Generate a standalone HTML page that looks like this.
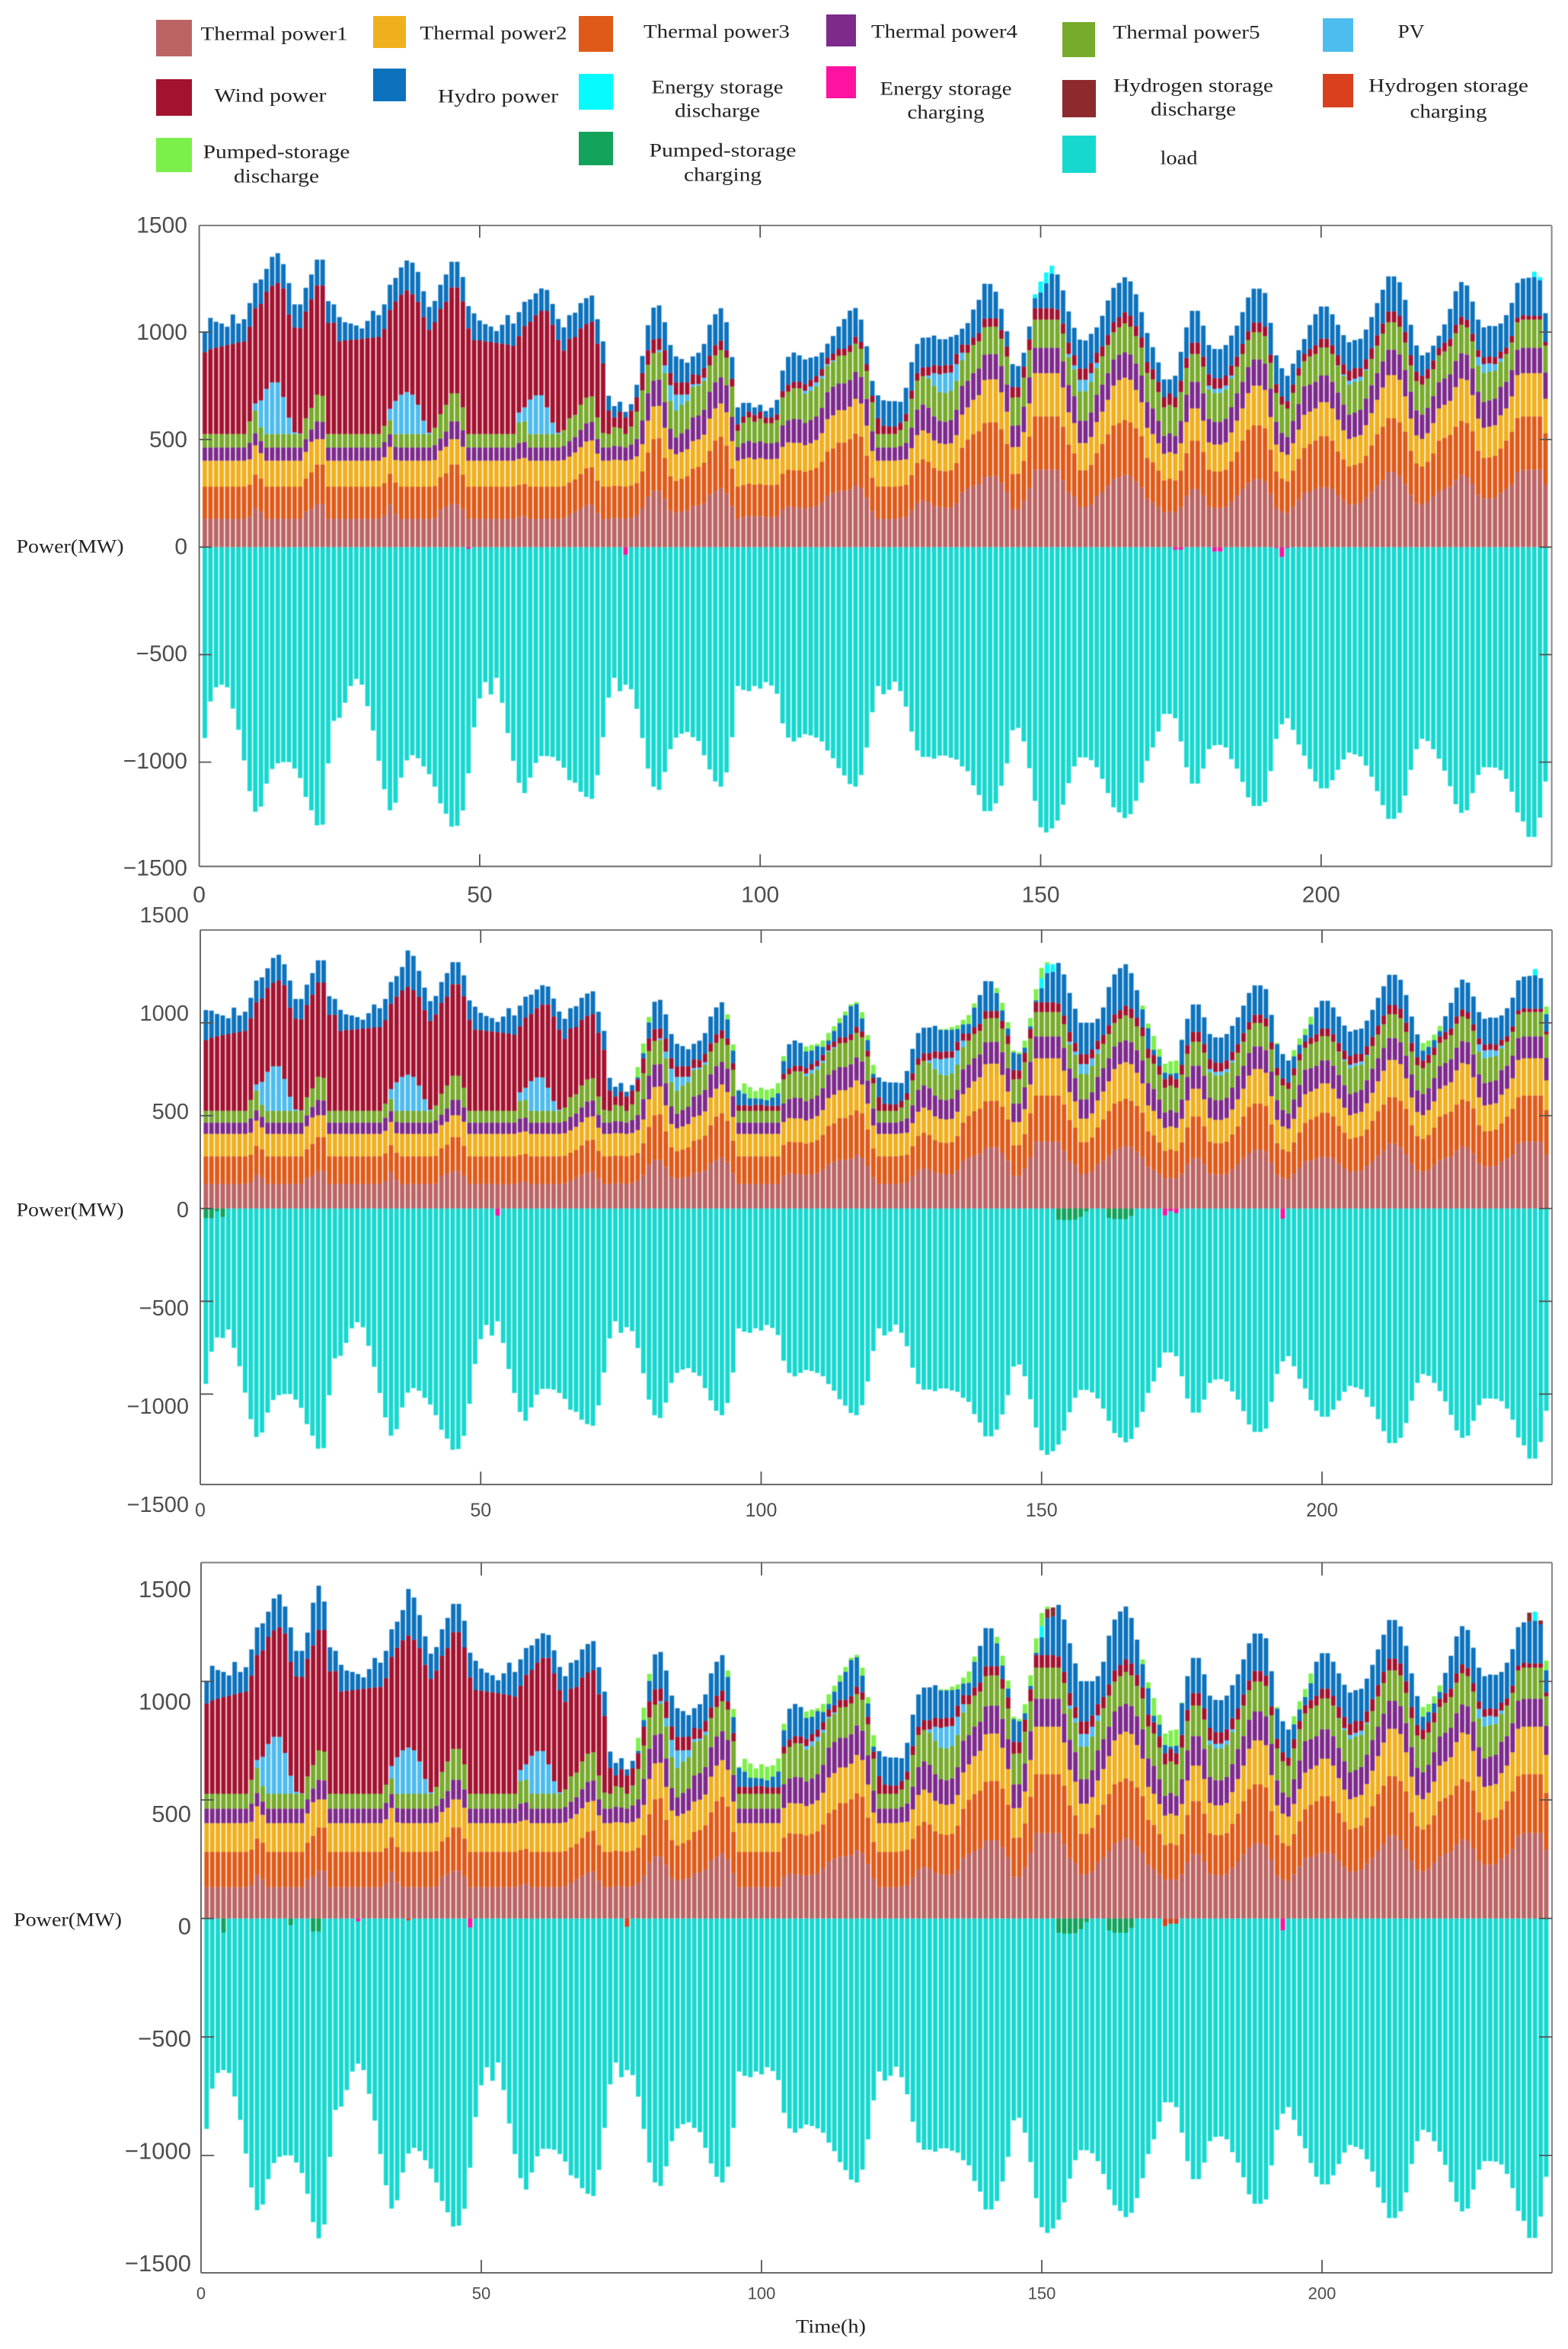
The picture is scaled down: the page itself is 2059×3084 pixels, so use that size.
<!DOCTYPE html>
<html lang="en">
<head>
<meta charset="utf-8">
<title>Power dispatch stacked bars</title>
<style>
html,body{margin:0;padding:0;background:#fff}
#figure{display:block;width:2059px;height:3084px}
.lg{font-family:"Liberation Serif",serif;font-size:25px;fill:#222;text-anchor:middle;dominant-baseline:central}
.tick{font-family:"Liberation Sans",sans-serif;fill:#4d4d4d;dominant-baseline:central}
.bars{filter:blur(0.55px)}
</style>
</head>
<body>
<svg id="figure" xmlns="http://www.w3.org/2000/svg" width="2059" height="3084" viewBox="0 0 2059 3084">
<rect width="2059" height="3084" fill="#fff"/>
<g id="legend">
<rect x="205" y="26" width="47" height="48" fill="#bc6464"/>
<text class="lg" x="360" y="45" textLength="193" lengthAdjust="spacingAndGlyphs">Thermal power1</text>
<rect x="490" y="21" width="43" height="42" fill="#f0b01e"/>
<text class="lg" x="648" y="44" textLength="193" lengthAdjust="spacingAndGlyphs">Thermal power2</text>
<rect x="760" y="21" width="45" height="47" fill="#df5a18"/>
<text class="lg" x="941" y="42" textLength="192" lengthAdjust="spacingAndGlyphs">Thermal power3</text>
<rect x="1085" y="19" width="39" height="42" fill="#7d2a8c"/>
<text class="lg" x="1240" y="42" textLength="192" lengthAdjust="spacingAndGlyphs">Thermal power4</text>
<rect x="1395" y="29" width="43" height="46" fill="#77ab2c"/>
<text class="lg" x="1558" y="43" textLength="193" lengthAdjust="spacingAndGlyphs">Thermal power5</text>
<rect x="1737" y="24" width="40" height="44" fill="#4dbcee"/>
<text class="lg" x="1853" y="42" textLength="35" lengthAdjust="spacingAndGlyphs">PV</text>
<rect x="205" y="104" width="47" height="48" fill="#a3122f"/>
<text class="lg" x="355" y="126" textLength="147" lengthAdjust="spacingAndGlyphs">Wind power</text>
<rect x="490" y="90" width="43" height="43" fill="#0c72bd"/>
<text class="lg" x="654" y="127" textLength="158" lengthAdjust="spacingAndGlyphs">Hydro power</text>
<rect x="760" y="97" width="45" height="47" fill="#05fbff"/>
<g>
<text class="lg" x="942" y="115" textLength="173" lengthAdjust="spacingAndGlyphs">Energy storage</text>
<text class="lg" x="942" y="146" textLength="112" lengthAdjust="spacingAndGlyphs">discharge</text>
</g>
<rect x="1085" y="87" width="39" height="42" fill="#ff12a0"/>
<g>
<text class="lg" x="1242" y="117" textLength="173" lengthAdjust="spacingAndGlyphs">Energy storage</text>
<text class="lg" x="1242" y="148" textLength="101" lengthAdjust="spacingAndGlyphs">charging</text>
</g>
<rect x="1395" y="105" width="44" height="49" fill="#8c2a2e"/>
<g>
<text class="lg" x="1567" y="113" textLength="210" lengthAdjust="spacingAndGlyphs">Hydrogen storage</text>
<text class="lg" x="1567" y="144" textLength="112" lengthAdjust="spacingAndGlyphs">discharge</text>
</g>
<rect x="1737" y="97" width="40" height="44" fill="#d9411e"/>
<g>
<text class="lg" x="1902" y="113" textLength="210" lengthAdjust="spacingAndGlyphs">Hydrogen storage</text>
<text class="lg" x="1902" y="147" textLength="101" lengthAdjust="spacingAndGlyphs">charging</text>
</g>
<rect x="205" y="181" width="47" height="45" fill="#7cf04a"/>
<g>
<text class="lg" x="363" y="200" textLength="193" lengthAdjust="spacingAndGlyphs">Pumped-storage</text>
<text class="lg" x="363" y="232" textLength="112" lengthAdjust="spacingAndGlyphs">discharge</text>
</g>
<rect x="760" y="173" width="45" height="44" fill="#13a35a"/>
<g>
<text class="lg" x="949" y="198" textLength="193" lengthAdjust="spacingAndGlyphs">Pumped-storage</text>
<text class="lg" x="949" y="230" textLength="102" lengthAdjust="spacingAndGlyphs">charging</text>
</g>
<rect x="1395" y="178" width="44" height="49" fill="#16d8cf"/>
<text class="lg" x="1548" y="208" textLength="49" lengthAdjust="spacingAndGlyphs">load</text>
</g>
<text class="lg" x="92" y="718" textLength="141" lengthAdjust="spacingAndGlyphs">Power(MW)</text>
<text class="lg" x="92" y="1589" textLength="141" lengthAdjust="spacingAndGlyphs">Power(MW)</text>
<text class="lg" x="89" y="2521" textLength="142" lengthAdjust="spacingAndGlyphs">Power(MW)</text>
<text class="lg" x="1091" y="3055" textLength="92" lengthAdjust="spacingAndGlyphs">Time(h)</text>
</svg>
<script>
const yTickValues=[1500,1000,500,0,-500,-1000,-1500];
const xTickValues=[0,50,100,150,200];
const thermal1=[
132,132,132,132,132,132,132,132,142,183,165,132,132,132,132,132,132,132,165,177,
201,201,132,132,132,132,132,132,132,132,132,132,148,197,154,132,132,132,132,132,
132,135,175,189,201,201,177,132,132,132,132,132,132,132,132,132,140,146,132,132,
132,132,132,132,135,150,165,180,195,198,160,132,132,136,135,132,137,150,180,235,
262,262,225,170,160,166,170,190,195,205,243,260,275,250,190,132,140,146,142,145,
140,140,143,176,190,185,185,180,185,190,210,240,252,262,262,268,288,275,230,168,
132,132,132,132,135,142,172,205,218,210,192,186,183,185,205,255,272,285,295,327,
330,330,300,258,175,176,215,275,360,360,360,360,360,312,255,235,187,187,200,237,
258,285,316,327,339,330,305,278,225,208,186,162,166,162,186,237,270,270,240,188,
182,182,188,212,240,270,298,316,316,305,248,182,166,158,186,220,254,258,270,278,
278,270,242,218,197,200,205,230,255,285,312,350,350,330,292,243,204,197,210,235,
260,272,282,312,335,327,295,243,225,228,230,252,270,292,350,360,360,360,360,290];
const thermal3=[
149,149,149,149,149,149,149,149,148,154,154,149,149,149,149,149,149,149,154,171,
183,183,149,149,149,149,149,149,149,149,149,149,149,145,147,149,149,149,149,149,
149,149,150,154,183,183,160,149,149,149,149,149,149,149,149,149,149,148,149,149,
149,149,149,149,149,150,150,160,171,173,150,149,149,149,149,149,149,148,172,205,
240,245,190,160,148,152,160,175,178,188,205,235,238,222,175,149,149,149,148,149,
149,149,148,165,170,172,172,170,172,178,186,205,207,225,225,235,240,238,195,155,
149,149,149,149,149,148,163,186,190,186,176,170,170,172,186,207,228,240,244,250,
250,250,248,222,165,165,186,238,248,248,248,248,248,248,222,200,170,170,182,200,
222,240,250,250,252,250,248,238,190,186,170,148,152,148,170,200,225,225,202,172,
170,170,172,187,202,225,248,250,250,248,205,170,152,148,170,190,207,222,225,238,
238,225,203,190,178,182,186,195,218,240,248,250,250,250,244,205,186,178,186,200,
235,236,240,248,252,250,244,205,190,190,195,207,225,244,250,248,248,248,248,240];
const thermal2=[
121,121,121,121,121,121,121,121,118,136,118,121,121,121,121,121,121,121,124,142,
118,118,121,121,121,121,121,121,121,121,121,121,121,124,104,121,121,121,121,121,
121,121,124,124,118,118,130,121,121,121,121,121,121,121,121,121,121,121,121,121,
121,121,121,121,121,121,125,125,125,125,125,121,121,121,121,121,121,124,127,148,
152,150,140,125,124,124,125,128,128,130,150,150,155,155,128,121,121,121,118,120,
120,120,120,125,127,128,128,124,126,130,134,150,154,150,150,150,162,155,140,124,
121,121,121,121,121,118,125,130,135,134,128,127,126,126,130,154,150,160,168,200,
200,200,172,150,125,125,134,155,201,201,201,201,201,182,150,142,127,127,130,145,
150,160,185,200,197,198,178,158,140,132,127,124,124,124,127,145,150,150,146,127,
125,125,127,134,146,150,170,185,185,178,152,125,124,124,127,136,154,150,150,158,
158,150,147,135,128,130,130,142,150,160,182,200,200,198,165,150,130,128,134,142,
150,154,158,184,197,200,168,150,140,142,142,154,150,165,200,201,201,201,201,160];
const thermal4=[
61,61,61,61,61,61,61,61,77,56,56,61,61,61,61,61,61,61,59,57,
83,80,61,61,61,61,61,61,61,61,61,61,70,59,61,61,61,61,61,61,
61,70,56,71,83,83,77,61,61,61,61,61,61,61,61,61,74,74,61,61,
61,61,61,61,65,72,72,80,85,86,68,61,61,65,63,61,70,81,110,128,
120,122,120,95,78,88,93,110,112,116,125,122,122,126,112,63,74,78,77,78,
74,74,77,100,103,112,110,104,108,110,118,126,132,125,125,124,124,124,124,92,
61,61,61,61,65,77,96,118,120,118,112,104,104,108,118,134,124,124,123,118,
118,118,122,126,100,100,118,122,118,118,118,118,118,122,127,125,104,104,114,127,
126,124,122,118,118,118,122,124,120,118,104,83,88,83,104,127,124,124,127,110,
106,106,110,118,127,124,122,122,122,122,132,106,89,82,104,120,133,126,124,124,
124,124,127,120,113,114,118,124,130,124,122,118,118,118,123,125,116,113,118,125,
122,122,124,122,118,118,123,125,120,122,124,132,124,123,118,118,118,118,118,122];
const thermal5=[
63,63,63,63,63,63,63,63,100,106,65,63,63,63,63,63,63,63,97,100,
124,121,63,63,63,63,63,63,63,63,63,63,76,65,60,63,63,63,63,63,
63,80,113,124,130,130,106,63,63,63,63,63,63,63,63,63,95,96,63,63,
63,63,63,63,74,106,103,117,119,119,100,68,63,87,85,63,84,127,140,132,
128,128,135,130,125,132,132,142,138,135,122,125,126,128,142,76,94,109,98,105,
93,93,103,130,133,142,141,135,136,140,136,124,118,128,130,130,132,130,130,135,
63,63,63,63,74,100,134,135,132,136,142,134,134,136,135,119,130,131,127,127,
127,127,127,130,130,131,135,126,131,131,131,131,131,129,130,125,137,137,142,124,
131,131,126,127,134,129,128,130,135,136,134,133,132,133,134,124,129,129,124,136,
134,134,136,135,124,129,125,126,126,128,120,134,132,132,130,132,117,130,129,130,
130,129,124,132,140,142,135,130,122,128,129,128,128,129,127,122,136,140,136,125,
125,126,130,129,132,127,127,122,135,134,130,118,129,128,128,131,131,131,131,125];
const pv=[
0,0,0,0,0,0,0,0,0,33,124,210,240,240,172,76,8,2,0,0,
0,0,0,0,0,0,0,0,0,0,0,0,0,53,154,183,195,183,136,62,
6,0,0,0,0,0,0,0,0,0,0,0,0,0,0,0,47,65,160,180,
180,124,53,6,0,0,0,0,0,0,0,0,0,0,0,0,0,0,0,0,
0,10,35,73,74,47,30,12,8,14,0,0,0,0,0,0,0,0,0,0,
0,0,0,0,0,0,2,14,20,18,12,6,6,0,0,0,0,0,0,0,
0,0,0,0,0,0,0,0,0,14,59,83,92,85,77,35,0,0,0,0,
0,0,0,0,0,0,0,0,0,0,0,0,0,0,14,18,53,53,41,24,
0,0,0,0,0,0,0,0,0,0,0,0,0,0,0,0,0,0,0,18,
19,21,18,12,0,0,0,0,0,0,0,0,0,0,0,0,0,0,0,0,
0,0,2,8,18,15,18,6,0,0,0,0,0,0,0,0,0,0,0,0,
0,0,0,0,0,0,0,39,41,39,30,14,0,0,0,0,0,0,0,0];
const wind=[
381,394,402,408,414,420,426,431,440,443,449,452,449,463,505,480,488,491,497,505,
508,514,517,517,431,435,437,440,443,446,449,451,450,460,462,465,473,467,479,482,
479,491,490,479,493,493,493,491,437,435,431,428,424,420,416,410,355,378,362,373,
393,449,455,431,370,370,362,355,342,347,343,324,109,45,77,77,73,67,80,68,
64,53,71,57,57,57,57,47,41,45,45,47,44,35,35,30,30,27,32,33,
27,27,27,30,32,30,30,30,31,30,32,30,30,32,30,31,32,32,32,30,
74,39,35,35,35,35,38,35,41,39,38,39,38,35,47,38,38,35,38,41,
39,39,41,47,50,47,51,51,53,53,53,53,47,47,53,47,53,53,47,47,
47,47,47,47,53,51,47,47,50,47,47,47,53,47,53,47,53,53,47,53,
50,47,47,47,47,47,41,45,45,44,38,41,38,35,39,35,34,35,41,41,
41,41,47,47,47,50,41,47,50,48,47,50,50,51,50,47,44,41,44,41,
35,41,35,39,38,35,35,32,32,32,32,33,30,30,21,21,18,18,18,17];
const hydro=[
95,146,120,106,85,136,88,103,110,117,114,106,135,138,113,146,107,110,110,116,
120,120,101,86,113,85,77,65,48,80,124,102,115,117,110,127,139,147,139,120,
106,99,112,127,119,119,113,104,124,93,80,72,55,88,137,104,112,113,104,101,
104,97,97,98,108,110,113,118,121,122,114,102,69,53,46,26,31,58,80,116,
148,154,130,130,121,109,91,83,104,112,144,144,151,130,102,79,63,41,35,32,
30,45,67,95,130,136,124,116,103,91,77,65,83,104,139,162,134,104,83,69,
106,118,118,118,97,121,132,136,138,138,137,124,120,131,89,74,100,130,155,162,
160,124,98,71,106,98,65,59,47,73,116,160,163,154,145,128,134,130,136,118,
142,160,160,160,162,160,148,118,136,103,91,83,65,100,134,142,148,148,144,136,
136,136,142,139,144,148,157,158,158,157,148,134,131,118,97,83,69,112,144,150,
150,144,142,136,132,130,136,138,145,150,157,163,163,156,149,142,122,95,77,69,
56,85,139,156,161,160,150,142,139,142,145,130,151,154,162,170,177,180,165,134];
const load=[
888,718,652,640,652,751,850,992,1135,1231,1207,1100,1032,1006,1000,1000,1030,1074,1162,1224,
1294,1291,1006,808,794,724,646,613,640,740,853,994,1126,1224,1189,1072,992,968,982,1020,
1056,1114,1192,1240,1300,1296,1225,1052,838,704,628,685,608,724,865,994,1096,1144,1072,1004,
972,972,976,994,1026,1084,1096,1138,1162,1171,1061,884,700,608,670,640,661,752,888,1030,
1114,1129,1046,940,886,868,860,884,902,968,1034,1090,1114,1048,884,646,664,670,646,658,
628,644,682,820,886,904,886,870,876,886,904,946,982,1028,1062,1102,1114,1060,932,768,
646,684,664,626,670,742,858,946,976,976,984,970,970,980,988,1020,1042,1108,1153,1228,
1228,1192,1110,1006,852,841,904,1028,1180,1303,1327,1308,1272,1198,1098,1020,978,978,991,1024,
1078,1144,1210,1234,1260,1242,1180,1096,994,932,858,776,776,796,904,1024,1100,1100,1030,940,
922,920,932,986,1030,1092,1164,1204,1204,1186,1042,892,824,796,850,918,970,1032,1090,1122,
1122,1084,1036,988,956,964,974,1016,1068,1135,1200,1264,1264,1236,1156,1036,940,892,902,940,
984,1040,1112,1196,1236,1224,1144,1060,1024,1024,1026,1038,1078,1138,1234,1276,1348,1348,1258,1090];

const sharedHydroHours=[78,79,80,94,95,104,108,109,110,111,112,113,114,115,116,117,118,119,120,132,133,134,135,136,137,138,142,143,144,145,146,147,148,149,150,151,152,153,154,155,156,157,158,159,161,162,163,164,165,166,168,169,170,171,172,173,174,192,195,196,197,198,218,219,220,221,240];
const sharedHydroValues=[10,28,86,103,68,68,89,73,79,43,24,58,77,119,152,124,70,56,21,119,115,116,69,49,52,107,97,57,37,96,88,27,14,10,75,157,164,218,221,210,184,170,170,145,149,206,215,226,223,192,98,111,28,50,35,10,32,127,63,49,35,71,54,43,39,29,93];
const psdHours=[78,79,80,94,95,96,97,98,99,100,101,102,103,104,108,109,110,111,112,113,114,115,116,117,118,119,120,132,133,134,135,136,137,138,142,143,144,145,146,147,148,149,150,151,168,169,170,171,172,173,174,175,192,195,196,197,198,218,219,220,221,240];
const psdValues=[55,52,30,27,34,5,55,60,40,60,57,48,55,27,27,30,12,34,41,25,27,20,10,10,34,27,48,5,5,15,20,25,48,23,27,41,34,10,10,38,45,61,55,11,20,25,75,41,48,68,68,3,7,34,34,34,41,41,34,30,27,41];
const troughHours=[96,97,98,99,100,101,102,103];
const troughThermal1=[132,132,132,132,132,132,132,132];
const troughThermal3=[149,149,149,149,149,149,149,149];
const troughThermal2=[121,121,121,121,121,121,121,121];
const troughThermal4=[61,61,61,61,61,61,61,61];
const troughThermal5=[63,63,63,63,63,63,63,63];

const esdHoursTop=[149,150,151,152,238,239];
const esdValuesTop=[18,51,50,38,25,15];
const escHoursTop=[48,76,174,175,181,182,192,193,194];
const escValuesTop=[8,35,12,12,20,20,4,45,4];

const hydroHoursMiddle=[1,37,38];
const hydroValuesMiddle=[162,196,185];
const loadHoursMiddle=[1,2,3,4];
const loadValuesMiddle=[945,772,695,698];
const esdHoursMiddle=[150,151,152,238];
const esdValuesMiddle=[55,48,41,34];
const escHoursMiddle=[53,172,173,174,193];
const escValuesMiddle=[38,37,14,25,55];
const pscHoursMiddle=[1,2,3,4,153,154,155,156,157,158,162,163,164,165,166];
const pscValuesMiddle=[52,52,15,45,60,62,62,60,45,15,50,57,57,57,40];

const hydroHoursBottom=[20,21,37,38];
const hydroValuesBottom=[180,187,196,178];
const loadHoursBottom=[20,21];
const loadValuesBottom=[1281,1350];
const esdHoursBottom=[150,238];
const esdValuesBottom=[48,38];
const hsdHoursBottom=[151,152,237,239];
const hsdValuesBottom=[37,37,37,16];
const escHoursBottom=[28,48,193];
const escValuesBottom=[12,38,50];
const hscHoursBottom=[37,76,172,173,174];
const hscValuesBottom=[8,35,32,22,22];
const pscHoursBottom=[4,16,20,21,153,154,155,156,157,158,162,163,164,165,166];
const pscValuesBottom=[60,28,55,55,60,64,64,62,45,15,50,60,60,60,40];

const stackOrder=[
 ['thermal-power1',thermal1,'#bc6464'],
 ['thermal-power3',thermal3,'#df5a18'],
 ['thermal-power2',thermal2,'#f0b01e'],
 ['thermal-power4',thermal4,'#7d2a8c'],
 ['thermal-power5',thermal5,'#77ab2c'],
 ['pv',pv,'#4dbcee'],
 ['wind-power',wind,'#a3122f'],
 ['hydro-power',hydro,'#0c72bd']
];

const panels=[
 {name:'top',x0:261.6,kx:7.366,y0:718.3,ky:0.2823,l:261.6,t:296,r:2037.6,b:1137.5,labelRight:246,labelY0:718,labelK:0.2813,yFont:30,xLabelY:1175,xFont:30,tickLen:16,
  hydroH:[],hydroV:[],useShared:false,loadH:[],loadV:[],esdH:esdHoursTop,esdV:esdValuesTop,escH:escHoursTop,escV:escValuesTop,hsdH:[],hsdV:[],hscH:[],hscV:[],pscH:[],pscV:[]},
 {name:'middle',x0:263,kx:7.365,y0:1586.6,ky:0.2437,l:263,t:1221,r:2038,b:1949,labelRight:248,labelY0:1589,labelK:0.258,yFont:29,xLabelY:1983,xFont:25,tickLen:17,
  hydroH:hydroHoursMiddle,hydroV:hydroValuesMiddle,useShared:true,loadH:loadHoursMiddle,loadV:loadValuesMiddle,esdH:esdHoursMiddle,esdV:esdValuesMiddle,escH:escHoursMiddle,escV:escValuesMiddle,hsdH:[],hsdV:[],hscH:[],hscV:[],pscH:pscHoursMiddle,pscV:pscValuesMiddle},
 {name:'bottom',x0:264,kx:7.36,y0:2518.7,ky:0.3112,l:264,t:2051.5,r:2038,b:2984,labelRight:251,labelY0:2529,labelK:0.295,yFont:31,xLabelY:3011,xFont:22,tickLen:17,
  hydroH:hydroHoursBottom,hydroV:hydroValuesBottom,useShared:true,loadH:loadHoursBottom,loadV:loadValuesBottom,esdH:esdHoursBottom,esdV:esdValuesBottom,escH:escHoursBottom,escV:escValuesBottom,hsdH:hsdHoursBottom,hsdV:hsdValuesBottom,hscH:hscHoursBottom,hscV:hscValuesBottom,pscH:pscHoursBottom,pscV:pscValuesBottom}
];

const NS='http://www.w3.org/2000/svg';
const figure=document.getElementById('figure');

function patch(base,hours,values){
 const out=base.slice();
 hours.forEach(function(h,i){out[h-1]=values[i];});
 return out;
}
function sparse(hours,values){
 return patch(new Array(load.length).fill(0),hours,values);
}
function addRect(parent,name,x,y,w,h,fill){
 const el=document.createElementNS(NS,'rect');
 el.setAttribute('x',x.toFixed(2));
 el.setAttribute('y',y.toFixed(2));
 el.setAttribute('width',w.toFixed(2));
 el.setAttribute('height',Math.max(h,0).toFixed(2));
 el.setAttribute('fill',fill);
 
 
 parent.appendChild(el);
 return el;
}
function addLine(parent,name,x1,y1,x2,y2,color,width){
 const el=document.createElementNS(NS,'line');
 el.setAttribute('x1',x1);
 el.setAttribute('y1',y1);
 el.setAttribute('x2',x2);
 el.setAttribute('y2',y2);
 el.setAttribute('stroke',color);
 el.setAttribute('stroke-width',width);
 
 
 parent.appendChild(el);
}
function addLabel(parent,name,x,y,text,size,anchor){
 const el=document.createElementNS(NS,'text');
 el.setAttribute('class','tick');
 el.setAttribute('x',x);
 el.setAttribute('y',y);
 el.setAttribute('font-size',size);
 el.setAttribute('text-anchor',anchor);
 
 
 el.textContent=text;
 parent.appendChild(el);
}

panels.forEach(function(p){
 const xScale=function(t){return p.x0+t*p.kx;};
 const yScale=function(v){return p.y0-v*p.ky;};
 const g=document.createElementNS(NS,'g');
 
 
 figure.appendChild(g);
 const bars=document.createElementNS(NS,'g');
 bars.setAttribute('class','bars');
 
 
 g.appendChild(bars);

 const troughSets={'thermal-power1':troughThermal1,'thermal-power3':troughThermal3,'thermal-power2':troughThermal2,'thermal-power4':troughThermal4,'thermal-power5':troughThermal5};
 const stack=stackOrder.map(function(s){
  let values=s[1];
  if(p.useShared&&troughSets[s[0]]){values=patch(values,troughHours,troughSets[s[0]]);}
  if(s[0]==='hydro-power'){
   if(p.useShared){values=patch(values,sharedHydroHours,sharedHydroValues);}
   values=patch(values,p.hydroH,p.hydroV);
  }
  return [s[0],values,s[2]];
 });
 stack.push(['hydrogen-storage-discharge',sparse(p.hsdH,p.hsdV),'#8c2a2e']);
 stack.push(['energy-storage-discharge',sparse(p.esdH,p.esdV),'#05fbff']);
 stack.push(['pumped-storage-discharge',p.useShared?sparse(psdHours,psdValues):sparse([],[]),'#7cf04a']);

 const barW=p.kx*0.8;
 const loadValues=patch(load,p.loadH,p.loadV);
 loadValues.forEach(function(v,i){
  addRect(bars,'bar-load',xScale(i+1)-barW/2,yScale(0),barW,v*p.ky,'#16d8cf');
 });
 const overlays=[
  ['pumped-storage-charging',sparse(p.pscH,p.pscV),'#13a35a'],
  ['energy-storage-charging',sparse(p.escH,p.escV),'#ff12a0'],
  ['hydrogen-storage-charging',sparse(p.hscH,p.hscV),'#d9411e']
 ];
 overlays.forEach(function(s){
  s[1].forEach(function(v,i){
   if(v>0){addRect(bars,'bar-'+s[0],xScale(i+1)-barW/2,yScale(0),barW,v*p.ky,s[2]);}
  });
 });
 for(let i=0;i<load.length;i++){
  let base=0;
  stack.forEach(function(s){
   const v=s[1][i]||0;
   if(v>0){addRect(bars,'bar-'+s[0],xScale(i+1)-barW/2,yScale(base+v),barW,v*p.ky,s[2]);}
   base+=v;
  });
 }

 const axisColor='#6a6a6a';
 addLine(g,'frame-top-'+p.name,p.l,p.t,p.r,p.t,'#808080',2);
 addLine(g,'frame-right-'+p.name,p.r,p.t,p.r,p.b,'#888888',2);
 addLine(g,'y-axis-line-'+p.name,p.l,p.t,p.l,p.b,axisColor,2);
 addLine(g,'x-axis-line-'+p.name,p.l,p.b,p.r,p.b,axisColor,2);
 yTickValues.forEach(function(v){
  const y=yScale(v);
  if(Math.abs(v)<1500){
   addLine(g,'y-tick-left',p.l,y,p.l+p.tickLen,y,'#555',1.8);
   addLine(g,'y-tick-right',p.r,y,p.r-p.tickLen,y,'#555',1.8);
  }
  addLabel(g,'y-tick-label',p.labelRight,p.labelY0-v*p.labelK,String(v).replace('-','\u2212'),p.yFont,'end');
 });
 xTickValues.forEach(function(v){
  const x=xScale(v);
  if(v>0){
   addLine(g,'x-tick-top',x,p.t,x,p.t+p.tickLen,'#555',1.8);
   addLine(g,'x-tick-bottom',x,p.b,x,p.b-p.tickLen,'#555',1.8);
  }
  addLabel(g,'x-tick-label',x,p.xLabelY,String(v),p.xFont,'middle');
 });
});
</script>
</body>
</html>
